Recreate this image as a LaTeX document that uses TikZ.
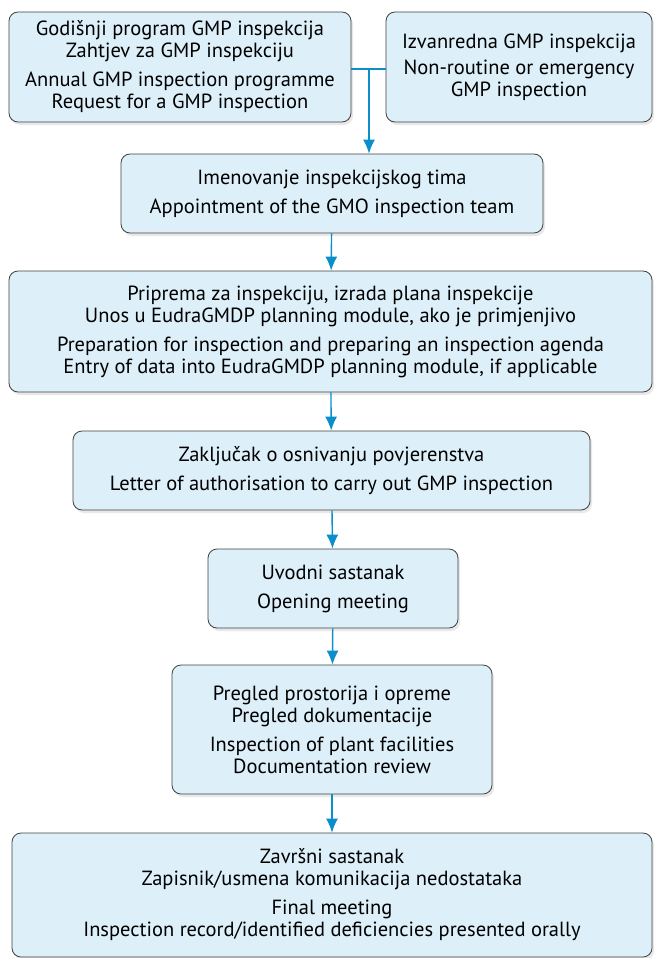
\documentclass[tikz,border=0pt]{standalone}
\usepackage{fontspec}
\setmainfont{PT Sans}
\usetikzlibrary{arrows.meta,shadows}
\definecolor{boxfill}{HTML}{DDEFF8}
\definecolor{flowblue}{HTML}{0A8FCB}
\begin{document}
\begin{tikzpicture}[x=1pt,y=-1pt,
		stage/.style={draw=black!75, line width=0.8pt, fill=boxfill, rounded corners=9pt,
			align=center, inner sep=0pt, font=\fontsize{20.5}{22}\selectfont,
			drop shadow={opacity=0.18, shadow xshift=2pt, shadow yshift=-3pt}},
		flow/.style={-{Latex[length=14pt,width=12pt]}, flowblue, line width=1.4pt}]
		\useasboundingbox (0,0) rectangle (654,958);

		\node[stage, minimum width=342, minimum height=110] (annual) at (180,67)
			{Godišnji program GMP inspekcija\\Zahtjev za GMP inspekciju\\[7pt]
			 Annual GMP inspection programme\\Request for a GMP inspection};
		\node[stage, minimum width=266, minimum height=110] (emergency) at (519,67)
			{Izvanredna GMP inspekcija\\[4pt]Non-routine or emergency\\GMP inspection};
		\node[stage, minimum width=422, minimum height=79] (team) at (332,193.5)
			{Imenovanje inspekcijskog tima\\[7pt]Appointment of the GMO inspection team};
		\node[stage, minimum width=643, minimum height=121] (prep) at (330.5,331.5)
			{Priprema za inspekciju, izrada plana inspekcije\\
			 Unos u EudraGMDP planning module, ako je primjenjivo\\[7pt]
			 Preparation for inspection and preparing an inspection agenda\\
			 Entry of data into EudraGMDP planning module, if applicable};
		\node[stage, minimum width=517, minimum height=79] (letter) at (331.5,470.5)
			{Zaključak o osnivanju povjerenstva\\[7pt]Letter of authorisation to carry out GMP inspection};
		\node[stage, minimum width=250, minimum height=79] (opening) at (333,588.5)
			{Uvodni sastanak\\[7pt]Opening meeting};
		\node[stage, minimum width=320, minimum height=129] (review) at (332,729.5)
			{Pregled prostorija i opreme\\Pregled dokumentacije\\[7pt]
			 Inspection of plant facilities\\Documentation review};
		\node[stage, minimum width=640, minimum height=124] (final) at (332,895)
			{Završni sastanak\\Zapisnik/usmena komunikacija nedostataka\\[7pt]
			 Final meeting\\Inspection record/identified deficiencies presented orally};

		\coordinate (split) at (369,69);
		\draw[flowblue, line width=1.4pt] (annual.east |- split) -- (emergency.west |- split);
		\draw[flow] (split) -- (split |- team.north);
		\draw[flow] (team) -- (prep);
		\draw[flow] (prep) -- (letter);
		\draw[flow] (letter) -- (opening);
		\draw[flow] (opening) -- (review);
		\draw[flow] (review) -- (final);
	\end{tikzpicture}
\end{document}
